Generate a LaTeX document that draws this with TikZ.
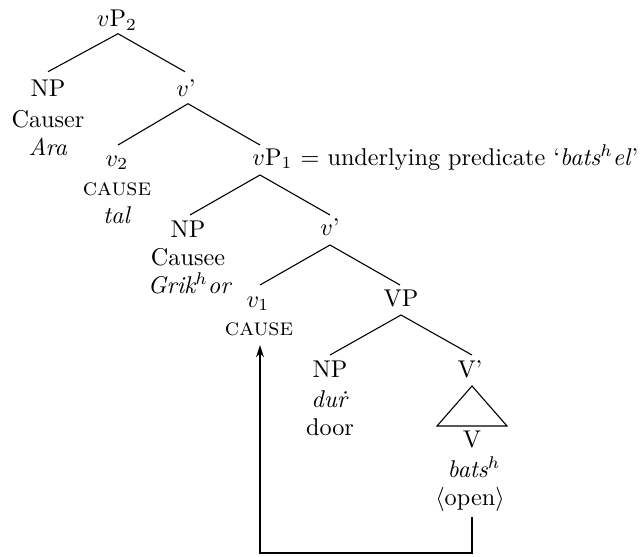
\documentclass[tikz,border=0pt]{standalone}
\usetikzlibrary{calc,arrows.meta}
\begin{document}
\begin{tikzpicture}[x=0.4124pt,y=-0.4124pt,
  lab/.style={inner sep=0pt,anchor=base},
  branch/.style={line width=0.45pt},
  movearrow/.style={line width=0.75pt,-{Stealth[length=5pt,width=3.2pt]}}]
\useasboundingbox (0,0) rectangle (641,556);
% nodes
\node[lab] (vp2) at (117,26.7) {$v$P$_2$};
\node[lab] (np1) at (48,96.7) {NP};
\node[lab] (causer) at (48,127) {Causer};
\node[lab] (ara) at (48,155) {\textit{Ara}};
\node[lab] (vbar1) at (186,96.7) {$v$'};
\node[lab] (v2) at (117,166) {$v_2$};
\node[lab] (cause2) at (117,195) {\textsc{cause}};
\node[lab] (tal) at (117,223) {\textit{tal}};
\node[lab,anchor=base west] (vp1) at (252,165) {$v$P$_1$ = underlying predicate `\textit{bats$^h$el}'};
\node[lab] (np2) at (188,237) {NP};
\node[lab] (causee) at (188,265) {Causee};
\node[lab] (grikhor) at (190,293) {\textit{Grik$^h$or}};
\node[lab] (vbar2) at (330,235) {$v$'};
\node[lab] (v1) at (258,307) {$v_1$};
\node[lab] (cause1) at (259,335) {\textsc{cause}};
\node[lab] (vp) at (401,306) {VP};
\node[lab] (np3) at (330,377) {NP};
\node[lab] (dur) at (330,407) {\textit{du\.r}};
\node[lab] (door) at (330,435) {door};
\node[lab] (vbar3) at (470,377) {V'};
\node[lab] (V) at (472,447) {V};
\node[lab] (batsh) at (474,477) {\textit{bats$^h$}};
\node[lab] (open) at (470,505) {$\langle$open$\rangle$};
% branches
\draw[branch] ($(np1.base)+(0,-25)$) -- ($(vp2.base)+(1,7)$) -- ($(vbar1.base)+(-1,-25)$);
\draw[branch] ($(v2.base)+(1,-21)$) -- ($(vbar1.base)+(2,7)$) -- ($(vp1.base west)+(8,-20)$);
\draw[branch] ($(np2.base)+(2,-22)$) -- ($(vp1.base west)+(8,10)$) -- ($(vbar2.base)+(0,-20)$);
\draw[branch] ($(v1.base)+(2,-22)$) -- ($(vbar2.base)+(0,10)$) -- ($(vp.base)+(-1,-21)$);
\draw[branch] ($(np3.base)+(0,-22)$) -- ($(vp.base)+(0,9)$) -- ($(vbar3.base)+(2,-22)$);
\draw[branch] ($(vbar3.base)+(2,9)$) -- ($(V.base)+(-35,-21)$) -- ($(V.base)+(35,-21)$) -- cycle;
% movement arrow
\draw[movearrow] ($(open.base)+(2,12)$) -- ++(0,36) -| ($(cause1.base)+(1,10)$);
\end{tikzpicture}
\end{document}
